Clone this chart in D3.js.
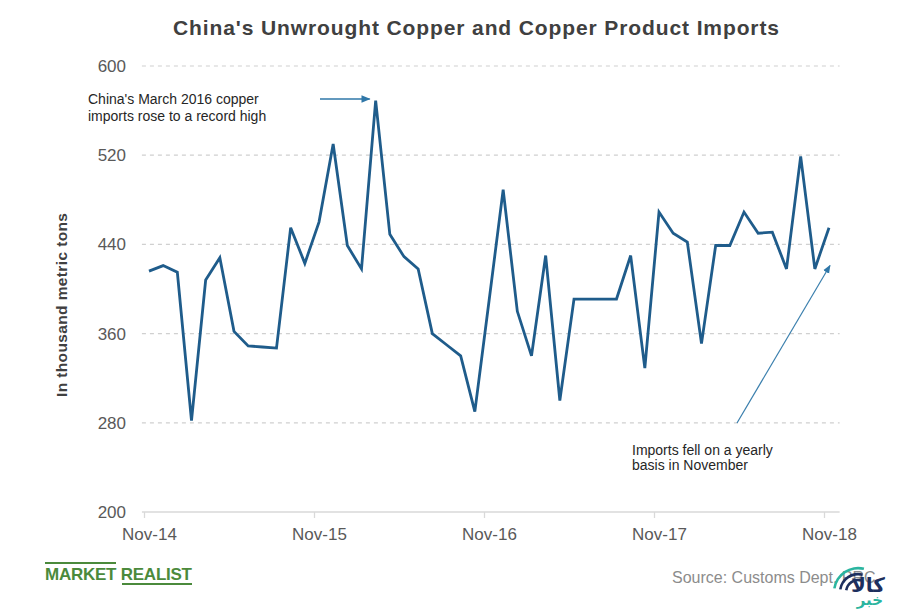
<!DOCTYPE html>
<html>
<head>
<meta charset="utf-8">
<script src="https://cdn.jsdelivr.net/npm/d3@7"></script>
<style>
  html, body { margin: 0; padding: 0; background: #ffffff; }
  svg { display: block; }
</style>
</head>
<body>
<svg id="chart" width="900" height="610"></svg>
<script>
// ---- Data (monthly, Nov-2014 .. Nov-2018), thousand metric tons ----
const months = d3.range(49); // month index from Nov-14
const imports = [
  416, 421, 415, 282, 408, 428, 362, 349, 348, 347, 455, 423,
  460, 530, 439, 418, 569, 449, 429, 418, 360, 350, 340, 290,
  389, 489, 380, 340, 430, 300, 391, 391, 391, 391, 430, 329,
  469, 450, 442, 351, 439, 439, 469, 450, 451, 418, 519, 418,
  455
];
const xTickIndex = [0, 12, 24, 36, 48];
const xTickLabels = ["Nov-14", "Nov-15", "Nov-16", "Nov-17", "Nov-18"];
const yTicks = [200, 280, 360, 440, 520, 600];

const titleText = "China's Unwrought Copper and Copper Product Imports";
const yAxisTitle = "In thousand metric tons";
const note1 = ["China's March 2016 copper", "imports rose to a record high"];
const note2 = ["Imports fell on a yearly", "basis in November"];
const sourceText = "Source: Customs Dept. PRC";

// ---- Layout ----
const svg = d3.select("#chart");
const x = d3.scaleLinear().domain([0, 48]).range([149, 829]);
const y = d3.scaleLinear().domain([200, 600]).range([512, 66]);
const lineColor = "#1f5c8b";

// defs: arrowheads
const defs = svg.append("defs");
defs.append("marker").attr("id", "arr").attr("viewBox", "0 0 10 10")
  .attr("refX", 9).attr("refY", 5).attr("markerWidth", 7).attr("markerHeight", 7)
  .attr("orient", "auto-start-reverse")
  .append("path").attr("d", "M0,1 L10,5 L0,9 Z").attr("fill", "#2f77a8");

// Title
svg.append("text").attr("x", 173).attr("y", 35)
  .attr("font-family", "Liberation Sans, Arial, sans-serif").attr("font-weight", "bold")
  .attr("font-size", 21).attr("textLength", 606).attr("lengthAdjust", "spacing")
  .attr("fill", "#404040").text(titleText);

// Gridlines (dashed) except baseline
const gridX0 = x(-0.5), gridX1 = x(48.75);
svg.append("g").selectAll("line").data(yTicks.filter(d => d !== 200)).join("line")
  .attr("x1", gridX0).attr("x2", gridX1)
  .attr("y1", d => y(d)).attr("y2", d => y(d))
  .attr("stroke", "#d0d0d0").attr("stroke-width", 1.2).attr("stroke-dasharray", "4,4");

// Y axis labels
const yAxis = d3.axisLeft(y).tickValues(yTicks).tickSize(0).tickPadding(0);
const gy = svg.append("g").attr("transform", `translate(126,0)`).call(yAxis);
gy.select(".domain").remove();
gy.selectAll("text").attr("font-family", "Liberation Sans, Arial, sans-serif")
  .attr("font-size", 17).attr("fill", "#595959");

// X axis
const xAxis = d3.axisBottom(x).tickValues(xTickIndex)
  .tickFormat((d, i) => xTickLabels[i]).tickSize(6).tickPadding(10);
const gx = svg.append("g").attr("transform", `translate(0,${y(200)})`).call(xAxis);
gx.select(".domain").remove();
gx.append("line").attr("x1", gridX0).attr("x2", gridX1).attr("y1", 0).attr("y2", 0)
  .attr("stroke", "#d9d9d9").attr("stroke-width", 1.6);
gx.selectAll(".tick line").attr("stroke", "#d9d9d9").attr("stroke-width", 1.3)
  .attr("transform", "translate(-5,0)");
gx.selectAll(".tick text").attr("font-family", "Liberation Sans, Arial, sans-serif")
  .attr("font-size", 17).attr("fill", "#595959");

// Y axis title
svg.append("text").attr("transform", "translate(67,305) rotate(-90)")
  .attr("text-anchor", "middle").attr("font-family", "Liberation Sans, Arial, sans-serif")
  .attr("font-weight", "bold").attr("font-size", 15.5).attr("textLength", 184)
  .attr("lengthAdjust", "spacing").attr("fill", "#404040").text(yAxisTitle);

// Line
const line = d3.line().x((d, i) => x(months[i])).y(d => y(d));
svg.append("path").datum(imports).attr("d", line)
  .attr("fill", "none").attr("stroke", lineColor).attr("stroke-width", 2.8)
  .attr("stroke-linejoin", "miter");

// Annotation 1
const narrow = "Liberation Sans Narrow, Arial Narrow, sans-serif";
svg.append("text").attr("x", 88).attr("y", 104).attr("font-family", narrow)
  .attr("font-size", 14).attr("fill", "#262626")
  .selectAll("tspan").data(note1).join("tspan")
  .attr("x", 88).attr("dy", (d, i) => i ? 17 : 0).text(d => d);
const peakIdx = imports.indexOf(d3.max(imports));
svg.append("line").attr("x1", 320).attr("y1", 99).attr("x2", x(peakIdx) - 6).attr("y2", 99)
  .attr("stroke", "#2f77a8").attr("stroke-width", 1.3).attr("marker-end", "url(#arr)");

// Annotation 2
svg.append("text").attr("x", 632).attr("y", 455).attr("font-family", narrow)
  .attr("font-size", 14).attr("fill", "#262626")
  .selectAll("tspan").data(note2).join("tspan")
  .attr("x", 632).attr("dy", (d, i) => i ? 15 : 0).text(d => d);
svg.append("line").attr("x1", 737).attr("y1", 423).attr("x2", x(48) + 1).attr("y2", y(422) + 1)
  .attr("stroke", "#3a7fad").attr("stroke-width", 1.2).attr("marker-end", "url(#arr)");

// Footer: Market Realist
const mr = svg.append("g");
mr.append("text").attr("x", 45).attr("y", 580).attr("font-family", "Liberation Sans Narrow, Arial Narrow, sans-serif")
  .attr("font-weight", "bold").attr("font-size", 17).attr("fill", "#4b8a3c")
  .attr("textLength", 147).text("MARKET REALIST");
mr.append("line").attr("x1", 45).attr("x2", 116).attr("y1", 563).attr("y2", 563)
  .attr("stroke", "#4b8a3c").attr("stroke-width", 1.8);
mr.append("line").attr("x1", 122).attr("x2", 192).attr("y1", 584).attr("y2", 584)
  .attr("stroke", "#4b8a3c").attr("stroke-width", 1.8);

// Source
svg.append("text").attr("x", 672).attr("y", 583).attr("font-family", "Liberation Sans, Arial, sans-serif")
  .attr("font-size", 16).attr("fill", "#8c8c8c").text(sourceText);

// Watermark logo (approximate)
const logo = svg.append("g").attr("transform", "translate(858,592)");
[13, 19, 25].forEach((r, i) => {
  logo.append("path")
    .attr("d", d3.arc().innerRadius(r - 2.4).outerRadius(r + 0.2).startAngle(-Math.PI / 2 + 0.15).endAngle(0.25)())
    .attr("fill", i === 2 ? "#2bb5a0" : "#1d2f5e");
});
logo.append("text").attr("x", 27).attr("y", 0).attr("text-anchor", "end")
  .attr("font-family", "DejaVu Sans, sans-serif").attr("font-weight", "bold").attr("font-size", 20)
  .attr("fill", "#1d2f5e").text("کالا");
logo.append("text").attr("x", 25).attr("y", 13).attr("text-anchor", "end")
  .attr("font-family", "DejaVu Sans, sans-serif").attr("font-weight", "bold").attr("font-size", 15)
  .attr("fill", "#2bb5a0").text("خبر");
</script>
</body>
</html>
